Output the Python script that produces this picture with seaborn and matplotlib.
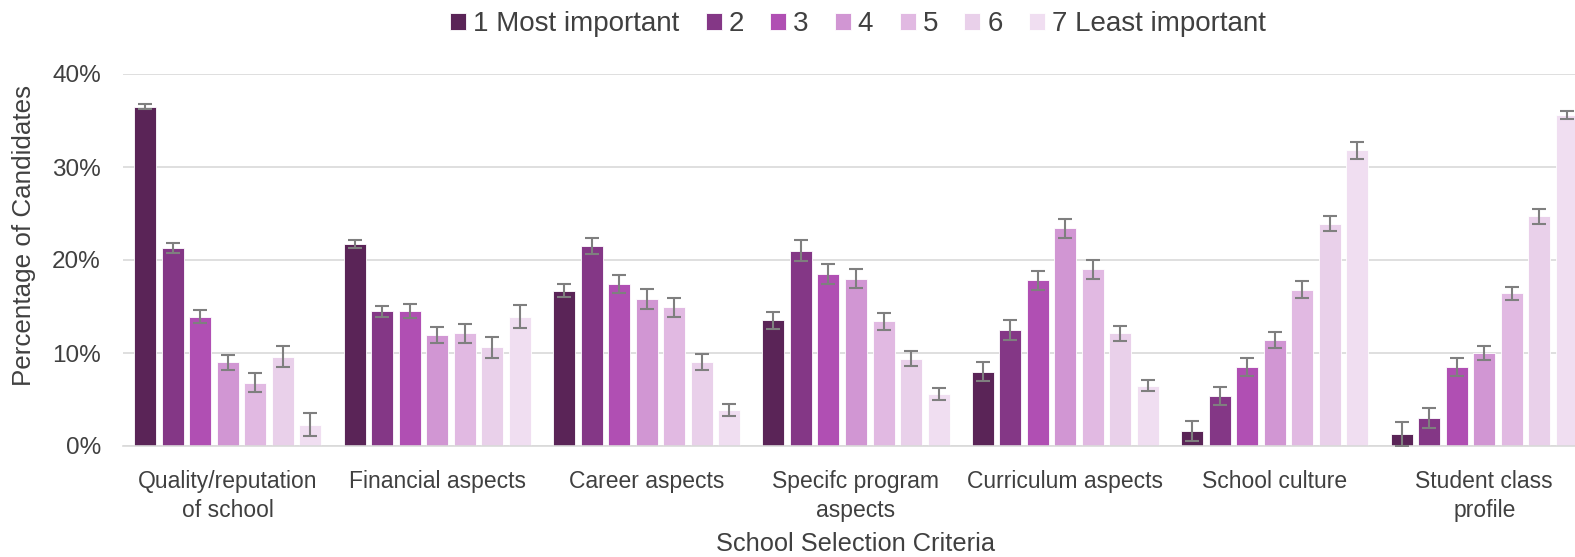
import pandas as pd
import seaborn as sns
import matplotlib.pyplot as plt
import numpy as np
from matplotlib.ticker import PercentFormatter

# school selection criteria (x axis)
criteria = ["Quality/reputation\nof school", "Financial aspects", "Career aspects",
            "Specifc program\naspects", "Curriculum aspects", "School culture",
            "Student class\nprofile"]
ranks = ["1 Most important", "2", "3", "4", "5", "6", "7 Least important"]

# percentage of candidates per rank, one list per criterion
quality    = [36.5, 21.3, 13.9, 9.0, 6.8, 9.6, 2.3]
financial  = [21.7, 14.5, 14.5, 11.9, 12.1, 10.6, 13.9]
career     = [16.7, 21.5, 17.4, 15.8, 14.9, 9.0, 3.9]
program    = [13.5, 21.0, 18.5, 18.0, 13.4, 9.4, 5.6]
curriculum = [8.0, 12.5, 17.8, 23.4, 19.0, 12.1, 6.5]
culture    = [1.6, 5.4, 8.5, 11.4, 16.8, 23.9, 31.8]
profile    = [1.3, 3.0, 8.5, 10.0, 16.4, 24.7, 35.6]

# error bar half-widths (same order)
quality_err    = [0.3, 0.5, 0.7, 0.8, 1.0, 1.1, 1.25]
financial_err  = [0.4, 0.6, 0.75, 0.85, 1.0, 1.1, 1.25]
career_err     = [0.7, 0.9, 1.0, 1.1, 1.05, 0.85, 0.65]
program_err    = [0.9, 1.1, 1.05, 1.0, 0.9, 0.8, 0.6]
curriculum_err = [1.0, 1.1, 1.0, 1.0, 1.0, 0.8, 0.55]
culture_err    = [1.1, 0.95, 0.95, 0.9, 0.9, 0.8, 0.9]
profile_err    = [1.3, 1.1, 0.95, 0.75, 0.7, 0.8, 0.4]

colors = ["#5a2457", "#843786", "#b04fb3", "#d196d3", "#e1b9e2", "#e9d0ea", "#f0def1"]

vals = [quality, financial, career, program, curriculum, culture, profile]
errs = [quality_err, financial_err, career_err, program_err, curriculum_err, culture_err, profile_err]

rows = []
for c, v, e in zip(criteria, vals, errs):
    for r, val, err in zip(ranks, v, e):
        rows.append({"Criteria": c, "Rank": r, "Pct": val, "Err": err})
df = pd.DataFrame(rows)

sns.set_style("white")
plt.rcParams['font.family'] = ['Liberation Sans', 'DejaVu Sans']
txt = "#404040"

fig = plt.figure(figsize=(15.75, 5.57), dpi=100)
ax = fig.add_axes([123/1575, 111/557, 1466/1575, 372/557])

sns.barplot(data=df, x="Criteria", y="Pct", hue="Rank", order=criteria, hue_order=ranks,
            palette=colors, errorbar=None, width=0.92, gap=0.2,
            edgecolor="white", linewidth=0.6, saturation=1, ax=ax)

# error bars at the bar centres seaborn placed
for cont, r in zip(ax.containers, ranks):
    sub = df[df["Rank"] == r].set_index("Criteria").loc[criteria]
    xs = [p.get_x() + p.get_width() / 2 for p in cont.patches]
    ax.errorbar(xs, sub["Pct"], yerr=sub["Err"], fmt="none", ecolor="#7f7f7f",
                elinewidth=1.5, capsize=5, capthick=1.5, zorder=3)

ax.set_xlim(-0.5, 6.5)
ax.set_ylim(0, 40)
ax.set_yticks([0, 10, 20, 30, 40])
ax.yaxis.set_major_formatter(PercentFormatter(decimals=0))
ax.grid(axis="y", color="#d9d9d9", linewidth=1.2)
ax.set_axisbelow(True)
for s in ["top", "right", "left"]:
    ax.spines[s].set_visible(False)
ax.spines["bottom"].set_color("#d9d9d9")
ax.spines["bottom"].set_linewidth(1.2)

ax.tick_params(axis="x", length=0, pad=17, labelsize=16.5, labelcolor=txt)
ax.tick_params(axis="y", length=0, pad=16, labelsize=17.5, labelcolor=txt)
for t in ax.get_xticklabels():
    t.set_linespacing(1.35)
ax.set_xlabel("School Selection Criteria", fontsize=18.3, color=txt, labelpad=7.5)
ax.set_ylabel("Percentage of Candidates", fontsize=18.7, color=txt)
ax.yaxis.set_label_coords(-0.0593, 0.565)

handles, labels = ax.get_legend_handles_labels()
ax.legend(handles, labels, ncol=7, loc="center", bbox_to_anchor=(858/1575, 1 - 24/557),
          bbox_transform=fig.transFigure, frameon=False, fontsize=20, labelcolor=txt,
          handlelength=0.57, handleheight=0.57, handletextpad=0.25, columnspacing=0.95)

fig.savefig("out.png", dpi=100)
